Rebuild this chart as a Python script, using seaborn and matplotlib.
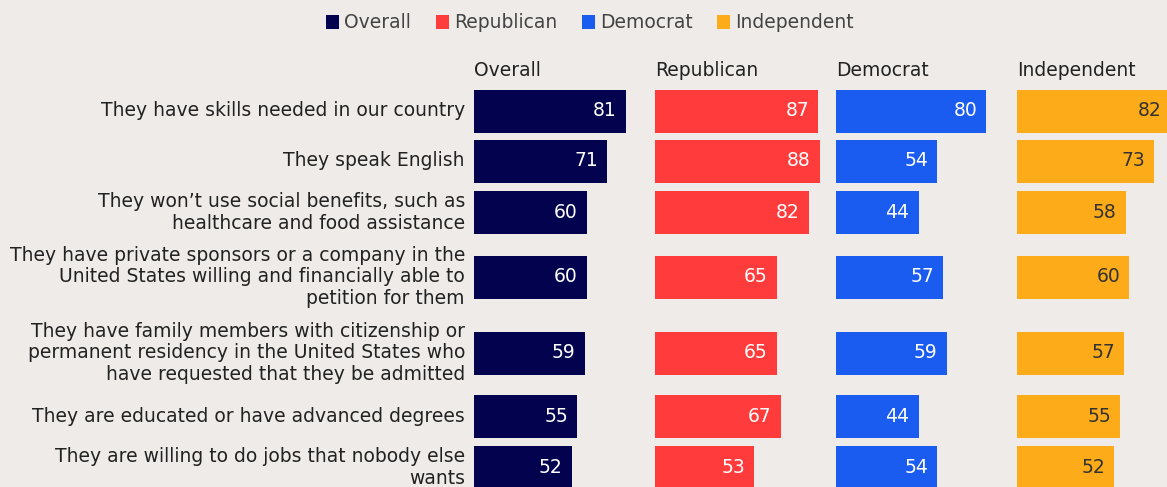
import matplotlib
matplotlib.use("Agg")
import matplotlib.pyplot as plt
from matplotlib.patches import Patch
import seaborn as sns
import pandas as pd
import numpy as np

categories = [
    "They have skills needed in our country",
    "They speak English",
    "They won\u2019t use social benefits, such as\nhealthcare and food assistance",
    "They have private sponsors or a company in the\nUnited States willing and financially able to\npetition for them",
    "They have family members with citizenship or\npermanent residency in the United States who\nhave requested that they be admitted",
    "They are educated or have advanced degrees",
    "They are willing to do jobs that nobody else\nwants",
]
groups = ["Overall", "Republican", "Democrat", "Independent"]
overall = [81, 71, 60, 60, 59, 55, 52]
republican = [87, 88, 82, 65, 65, 67, 53]
democrat = [80, 54, 44, 57, 59, 44, 54]
independent = [82, 73, 58, 60, 57, 55, 52]
series = [overall, republican, democrat, independent]

colors = ["#02024f", "#ff3b3b", "#1a5cf0", "#fdab18"]
value_colors = ["white", "white", "white", "#333333"]
bg = "#efebe8"

W, H = 1167, 487
DPI = 100

sns.set_theme(style="white")
plt.rcParams["font.family"] = ["DejaVu Sans"]
FS = 13.5

# layout of rows (pixel units), driven by number of label lines
line_h, bar_h, gap = 23.0, 43.0, 7.0
first_top = 89.5
centers = []
top = first_top
for c in categories:
    ext = max(bar_h, c.count("\n") * line_h + line_h)
    centers.append(top + ext / 2)
    top += ext + gap
centers = np.array(centers)
native_w = np.min(np.diff(centers))

fig = plt.figure(figsize=(W / DPI, H / DPI), dpi=DPI)
fig.patch.set_facecolor(bg)

ax_top_px = 85
panel_w_px = 181
px_per_unit = 1.875
first_left_px = 474

for i, (g, vals) in enumerate(zip(groups, series)):
    left = (first_left_px + i * panel_w_px) / W
    ax = fig.add_axes([left, 0, panel_w_px / W, (H - ax_top_px) / H])
    ax.set_facecolor("none")
    df = pd.DataFrame({"pos": centers, "value": vals})
    sns.barplot(data=df, x="value", y="pos", orient="y", native_scale=True,
                width=bar_h / native_w, color=colors[i], saturation=1,
                ax=ax, errorbar=None, linewidth=0)
    ax.set_xlim(0, panel_w_px / px_per_unit)
    ax.set_ylim(H, ax_top_px)
    for s in ax.spines.values():
        s.set_visible(False)
    ax.set_xticks([])
    ax.set_xlabel("")
    ax.set_ylabel("")
    if i == 0:
        ax.set_yticks(centers)
        ax.set_yticklabels(categories, fontsize=FS, color="#222222",
                           ha="right", multialignment="right", linespacing=1.18,
                           va="center")
        ax.tick_params(axis="y", length=0, pad=6.5)
    else:
        ax.set_yticks([])
    ax.text(0, 1.0 + 14 / (H - ax_top_px), g, transform=ax.transAxes,
            ha="left", va="center", fontsize=FS, color="#222222")
    for p in ax.patches:
        x = p.get_width()
        y = p.get_y() + p.get_height() / 2
        ax.annotate(f"{x:.0f}", (x, y), xytext=(-9, 0), textcoords="offset pixels",
                    ha="right", va="center", fontsize=FS, color=value_colors[i])

handles = [Patch(facecolor=c, edgecolor="none") for c in colors]
fig.legend(handles, groups, loc="center", bbox_to_anchor=(590 / W, 1 - 23 / H),
           ncol=4, frameon=False, fontsize=FS, labelcolor="#444444",
           handlelength=0.7, handleheight=0.7, handletextpad=0.28,
           columnspacing=1.3)

fig.savefig("out.png", dpi=DPI, facecolor=bg)
